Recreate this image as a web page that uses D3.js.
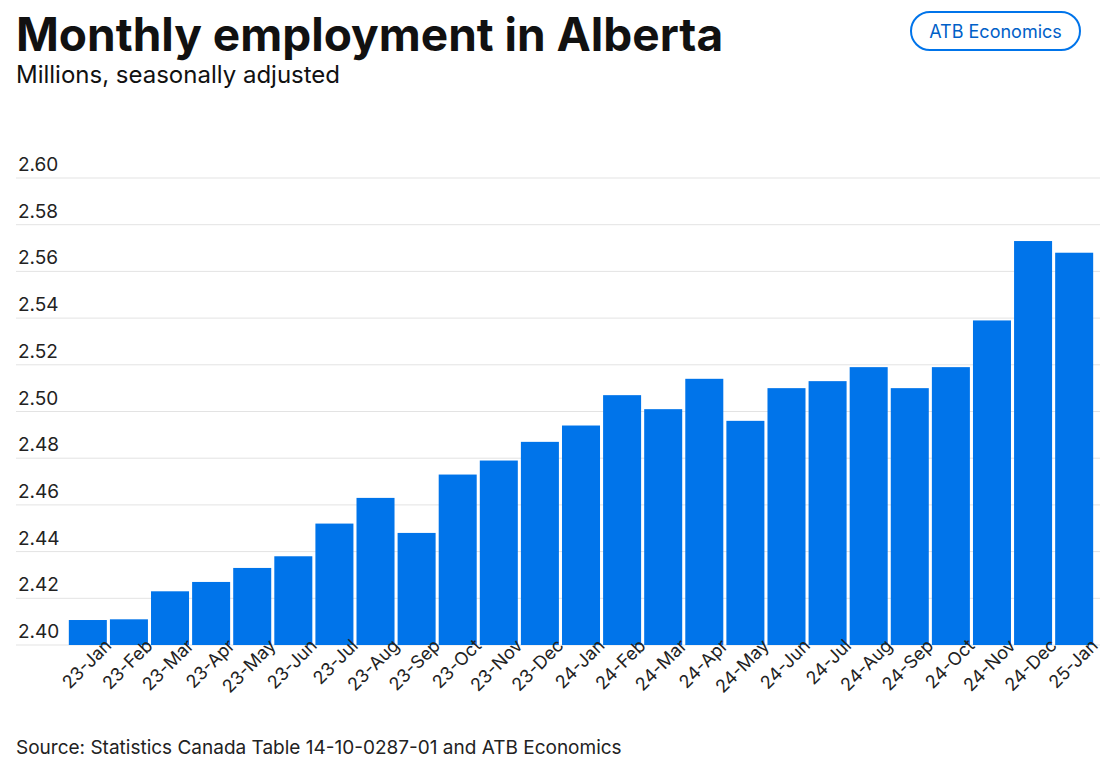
<!DOCTYPE html>
<html><head><meta charset="utf-8">
<script src="https://cdn.jsdelivr.net/npm/d3@7"></script>
<style>body{margin:0;background:#fff;font-family:Inter,"Noto Sans",sans-serif;}</style>
</head><body><svg id="chart" width="1120" height="767"></svg>
<script>
const months = ["23-Jan","23-Feb","23-Mar","23-Apr","23-May","23-Jun","23-Jul","23-Aug","23-Sep","23-Oct","23-Nov","23-Dec",
  "24-Jan","24-Feb","24-Mar","24-Apr","24-May","24-Jun","24-Jul","24-Aug","24-Sep","24-Oct","24-Nov","24-Dec","25-Jan"];
const employment = [2.4107,2.411,2.423,2.427,2.433,2.438,2.452,2.463,2.448,2.473,2.479,2.487,
  2.494,2.507,2.501,2.514,2.496,2.510,2.513,2.519,2.510,2.519,2.539,2.573,2.568];
const yTicks = [2.40,2.42,2.44,2.46,2.48,2.50,2.52,2.54,2.56,2.58,2.60];

const svg = d3.select("#chart");
const margin = { top: 178, right: 26, bottom: 122, left: 68 };
const width = 1120, height = 767;

const x = d3.scaleBand().domain(months).range([margin.left, width - margin.right]).paddingInner(0.075).paddingOuter(0.02);
const y = d3.scaleLinear().domain([2.40, 2.60]).range([height - margin.bottom, margin.top]);

// gridlines + labels (labels sit above the lines)
const grid = svg.append("g");
grid.selectAll("line").data(yTicks).enter().append("line")
  .attr("x1", 16).attr("x2", width - 20)
  .attr("y1", d => y(d)).attr("y2", d => y(d))
  .attr("stroke", "#e3e3e3");
grid.selectAll("text").data(yTicks).enter().append("text")
  .attr("x", 18).attr("y", d => y(d) - 7)
  .attr("font-size", 19).attr("fill", "#222")
  .text(d => d.toFixed(2));

// bars
svg.append("g").selectAll("rect").data(employment).enter().append("rect")
  .attr("x", (d, i) => x(months[i]))
  .attr("width", x.bandwidth())
  .attr("y", d => y(d))
  .attr("height", d => y(2.40) - y(d))
  .attr("fill", "#0074ea");

// x axis labels
const xAxis = svg.append("g").attr("transform", `translate(0,${height - margin.bottom})`)
  .call(d3.axisBottom(x).tickSize(0).tickPadding(8));
xAxis.select(".domain").remove();
xAxis.selectAll("text")
  .attr("font-size", 18).attr("font-family", "Inter,'Noto Sans',sans-serif").attr("fill", "#222")
  .attr("text-anchor", "end").attr("dx", "0.9em").attr("dy", "0.6em")
  .attr("transform", "rotate(-45)");

// titles
svg.append("text").attr("x", 16).attr("y", 51).attr("font-size", 46).attr("font-weight", 700)
  .attr("fill", "#111").text("Monthly employment in Alberta");
svg.append("text").attr("x", 16).attr("y", 83).attr("font-size", 24).attr("fill", "#111")
  .text("Millions, seasonally adjusted");
svg.append("text").attr("x", 16).attr("y", 754).attr("font-size", 19).attr("fill", "#222")
  .text("Source: Statistics Canada Table 14-10-0287-01 and ATB Economics");

// badge
svg.append("rect").attr("x", 911).attr("y", 12).attr("width", 169).attr("height", 38).attr("rx", 19)
  .attr("fill", "#fff").attr("stroke", "#0074ea").attr("stroke-width", 2);
svg.append("text").attr("x", 995.5).attr("y", 38).attr("text-anchor", "middle")
  .attr("font-size", 18).attr("fill", "#0060c8").text("ATB Economics");
</script></body></html>
